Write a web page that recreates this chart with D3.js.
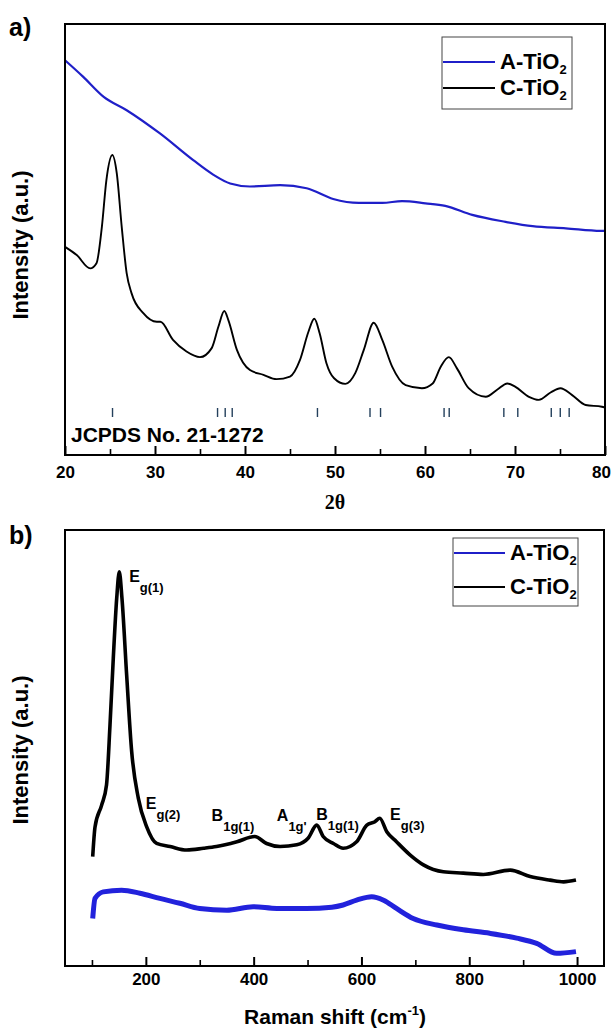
<!DOCTYPE html>
<html>
<head>
<meta charset="utf-8">
<script src="https://cdn.jsdelivr.net/npm/d3@7/dist/d3.min.js"></script>
<style>
  body { margin: 0; background: #fff; }
  svg { display: block; }
  text { font-family: "Liberation Sans", Arial, sans-serif; font-weight: bold; fill: #000; }
</style>
</head>
<body>
<svg id="fig" width="612" height="1030"></svg>
<script>
// ---- XRD patterns: [2θ (deg), intensity (a.u.)] ----
const xrdAnatase = [
  [20, 91.6], [22.0, 87.8], [24.3, 83.1], [26.85, 80.0], [30.55, 74.6], [34.25, 68.4],
  [36.5, 65.0], [38.35, 63.0], [40.55, 62.3], [43.9, 62.6], [46.85, 61.9], [49.8, 59.4],
  [52.65, 58.5], [55.25, 58.5], [57.45, 58.9], [60.05, 58.4], [62.25, 57.8], [65.25, 55.7],
  [68.95, 54.1], [71.95, 53.1], [75.65, 52.6], [79.55, 52.0], [80, 52.0]
];
const xrdCommercial = [
  [20.0, 48.3], [21.3, 46.4], [22.8, 43.3], [23.5, 44.5], [24.1, 53.0], [24.6, 63.8],
  [25.26, 69.6], [25.75, 65.4], [26.3, 53.0], [26.85, 42.2], [27.4, 37.5], [28.7, 32.9],
  [30.2, 30.9], [30.6, 30.9], [32.0, 26.7], [33.5, 24.0], [35.0, 22.7], [36.3, 24.8],
  [37.05, 29.8], [37.7, 33.4], [38.15, 31.3], [39.1, 24.4], [40.55, 19.7], [42.05, 18.6],
  [43.5, 17.6], [45.0, 18.2], [46.1, 22.0], [47.05, 28.6], [47.7, 31.6], [48.3, 28.2],
  [49.05, 21.3], [49.9, 17.8], [51.15, 16.5], [52.25, 19.0], [53.2, 24.4], [54.3, 30.7],
  [55.25, 26.7], [56.35, 20.5], [57.85, 16.2], [59.65, 15.5], [60.85, 16.6], [61.75, 20.5],
  [62.65, 22.7], [63.55, 20.1], [64.85, 15.5], [66.75, 13.5], [68.05, 15.2], [69.15, 16.6],
  [70.05, 15.8], [71.55, 13.5], [72.65, 12.8], [73.95, 14.5], [75.05, 15.5], [76.35, 13.9],
  [77.85, 11.6], [79.65, 11.2], [80, 11.0]
];
// Anatase reference reflections, JCPDS 21-1272
const jcpdsPeaks = [25.28, 36.95, 37.80, 38.58, 48.05, 53.89, 55.06, 62.12, 62.69,
                    68.76, 70.31, 74.03, 75.03, 76.02];
const xrdTicks = [20, 30, 40, 50, 60, 70, 80];
const xrdMinorTicks = [25, 35, 45, 55, 65, 75];

// ---- Raman spectra: [shift (cm-1), intensity (a.u.)] ----
const ramanAnatase = [
  [101.4, 10.9], [105.7, 15.5], [121, 17.0], [155, 17.4], [189, 16.7], [226, 15.5],
  [263, 14.4], [300, 13.2], [350, 12.8], [399, 13.6], [443, 13.2], [498, 13.2],
  [545, 13.5], [566, 14.0], [591, 15.1], [619, 15.9], [641, 15.1], [665, 13.2],
  [696, 10.9], [740, 9.4], [789, 8.3], [838, 7.5], [888, 6.4], [925, 5.2],
  [962, 2.9], [998, 3.3]
];
const ramanCommercial = [
  [101.4, 25.1], [105.7, 31.9], [118, 36.9], [127, 41.5], [133.5, 55.3], [139.6, 70.6],
  [145.9, 84.3], [150.7, 90.4], [155.7, 84.3], [164.4, 66.7], [173.7, 49.2], [186, 38.5],
  [201.6, 31.9], [220, 28.1], [245, 27.4], [276, 26.6], [307, 27.0], [331, 27.4],
  [369, 28.5], [402, 29.7], [424, 28.1], [449, 27.4], [480, 27.8], [501, 29.3],
  [517, 32.3], [529, 29.7], [548, 28.1], [566, 27.0], [591, 28.5], [610, 32.3],
  [625, 33.1], [634, 33.9], [647, 30.8], [665, 28.5], [690, 25.5], [715, 23.2],
  [752, 21.6], [789, 21.3], [826, 21.0], [876, 22.0], [913, 20.5], [950, 19.7],
  [975, 19.3], [998, 19.7]
];
const ramanTicks = [200, 400, 600, 800, 1000];
const ramanMinorTicks = [100, 300, 500, 700, 900];
// Mode labels: symbol, subscript, anchor (shift, intensity)
const ramanModes = [
  { sym: "E", sub: "g(1)",  at: [169, 88.1] },
  { sym: "E", sub: "g(2)",  at: [200, 35.9] },
  { sym: "B", sub: "1g(1)", at: [322, 33.3] },
  { sym: "A", sub: "1g'",   at: [443, 33.3] },
  { sym: "B", sub: "1g(1)", at: [516, 33.4] },
  { sym: "E", sub: "g(3)",  at: [653, 33.5] }
];

const seriesNames = ["A-TiO", "C-TiO"];   // subscript "2" appended when drawn
const seriesColors = ["#1f1fc8", "#000000"];

// ---------------------------------------------------------------
const svg = d3.select("#fig");
const pageWidth = +svg.attr("width");

function frame(x, y) {
  const [x0, x1] = x.range(), [y0, y1] = y.range();
  svg.append("rect")
    .attr("x", x0).attr("y", y1).attr("width", x1 - x0).attr("height", y0 - y1)
    .attr("fill", "none").attr("stroke", "#000").attr("stroke-width", 2);
}

function bottomTicks(x, y, majors, minors, pad) {
  const y0 = y.range()[0];
  const major = svg.append("g").attr("transform", `translate(0,${y0})`)
    .call(d3.axisBottom(x).tickValues(majors).tickSize(-9).tickPadding(pad).tickFormat(d3.format("d")));
  major.select(".domain").remove();
  major.selectAll("line").attr("stroke-width", 2);
  major.attr("font-size", 17).attr("font-family", null);
  // a label on the right frame edge is right-aligned so it stays on the page
  major.selectAll(".tick").filter(d => x(d) + 10 > pageWidth).select("text")
    .attr("text-anchor", "end")
    .attr("x", d => pageWidth - 1 - x(d) - 0.5);
  const minor = svg.append("g").attr("transform", `translate(0,${y0})`)
    .call(d3.axisBottom(x).tickValues(minors).tickSize(-6).tickFormat(""));
  minor.select(".domain").remove();
  minor.selectAll("line").attr("stroke-width", 1.6);
}

function legend(x, y, w, h, rowY, lineLen) {
  const g = svg.append("g");
  g.append("rect").attr("x", x).attr("y", y).attr("width", w).attr("height", h)
    .attr("fill", "#fff").attr("stroke", "#444").attr("stroke-width", 1);
  seriesNames.forEach((name, i) => {
    const cy = rowY[i];
    g.append("line").attr("x1", x + 1).attr("x2", x + lineLen).attr("y1", cy).attr("y2", cy)
      .attr("stroke", seriesColors[i]).attr("stroke-width", 2);
    const t = g.append("text").attr("x", x + lineLen + 5).attr("y", cy + 7).attr("font-size", 22);
    t.append("tspan").text(name);
    t.append("tspan").attr("font-size", 13).attr("dy", 5).text("2");
  });
}

function yTitle(cy) {
  svg.append("text").attr("transform", `translate(28,${cy}) rotate(-90)`)
    .attr("text-anchor", "middle").attr("font-size", 22).text("Intensity (a.u.)");
}

// ---------------- panel a: XRD ----------------
const xA = d3.scaleLinear().domain([20, 80]).range([65, 605]);
const yA = d3.scaleLinear().domain([0, 100]).range([455, 24]);
const lineA = d3.line().x(d => xA(d[0])).y(d => yA(d[1])).curve(d3.curveMonotoneX);

svg.append("path").datum(xrdAnatase).attr("d", lineA)
  .attr("fill", "none").attr("stroke", seriesColors[0]).attr("stroke-width", 2.2);
svg.append("path").datum(xrdCommercial).attr("d", lineA)
  .attr("fill", "none").attr("stroke", seriesColors[1]).attr("stroke-width", 1.9);

svg.append("g").selectAll("line").data(jcpdsPeaks).join("line")
  .attr("x1", d => xA(d)).attr("x2", d => xA(d))
  .attr("y1", yA(0) - 47).attr("y2", yA(0) - 38)
  .attr("stroke", "#24405c").attr("stroke-width", 1.4);

svg.append("text").attr("x", 71).attr("y", 442).attr("font-size", 21).text("JCPDS No. 21-1272");

frame(xA, yA);
bottomTicks(xA, yA, xrdTicks, xrdMinorTicks, 11);
legend(442, 37, 130, 72, [62, 88], 53);
yTitle(245);

svg.append("text").attr("x", 335).attr("y", 509).attr("text-anchor", "middle")
  .attr("font-size", 20).style("font-family", '"Liberation Serif", "Times New Roman", serif')
  .text("2θ");
svg.append("text").attr("x", 9).attr("y", 36).attr("font-size", 25).text("a)");

// ---------------- panel b: Raman ----------------
const xB = d3.scaleLinear().domain([50, 1050]).range([65, 604]);
const yB = d3.scaleLinear().domain([0, 100]).range([966, 530]);
const lineB = d3.line().x(d => xB(d[0])).y(d => yB(d[1])).curve(d3.curveMonotoneX);

svg.append("path").datum(ramanAnatase).attr("d", lineB)
  .attr("fill", "none").attr("stroke", "#2222dc").attr("stroke-width", 5).attr("stroke-linejoin", "round");
svg.append("path").datum(ramanCommercial).attr("d", lineB)
  .attr("fill", "none").attr("stroke", "#000").attr("stroke-width", 3.6).attr("stroke-linejoin", "round");

const modes = svg.append("g").selectAll("text").data(ramanModes).join("text")
  .attr("x", d => xB(d.at[0])).attr("y", d => yB(d.at[1])).attr("font-size", 16);
modes.append("tspan").text(d => d.sym);
modes.append("tspan").attr("font-size", 13).attr("dy", 10).text(d => d.sub);

frame(xB, yB);
bottomTicks(xB, yB, ramanTicks, ramanMinorTicks, 7);
legend(453, 538, 125, 68, [553, 587], 52);
yTitle(750);

const xt = svg.append("text").attr("x", 335).attr("y", 1024).attr("text-anchor", "middle").attr("font-size", 21);
xt.append("tspan").text("Raman shift (cm");
xt.append("tspan").attr("font-size", 13).attr("dy", -9).text("-1");
xt.append("tspan").attr("dy", 9).text(")");
svg.append("text").attr("x", 9).attr("y", 544).attr("font-size", 25).text("b)");
</script>
</body>
</html>
